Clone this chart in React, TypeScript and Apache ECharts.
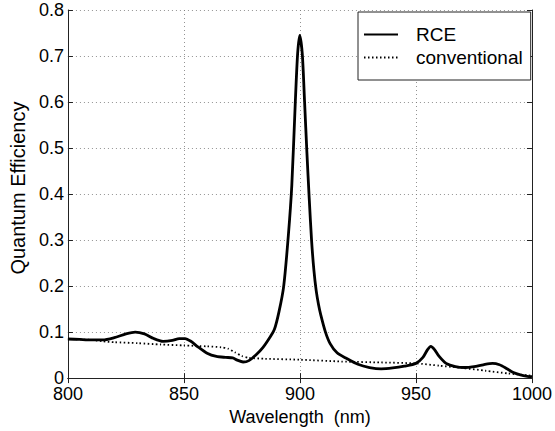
import React, { useEffect, useRef } from "react";
import * as echarts from "echarts";

const xTicks = [800, 850, 900, 950, 1000];
const yTicks = [0, 0.1, 0.2, 0.3, 0.4, 0.5, 0.6, 0.7, 0.8];

const rceWavelength = [
  800, 805, 810, 815, 820, 825, 829, 833, 837, 841, 845, 848, 850.5, 853, 856, 860, 864, 868, 871, 873,
  875.5, 878, 881, 884, 887, 889, 891, 893, 895, 896.5, 898, 899, 899.9, 901, 902, 903, 904, 905, 906,
  907, 908, 909, 911, 913, 916, 920, 925, 930, 935, 940, 945, 950, 953, 955, 956.4, 958, 960, 963, 967,
  971, 975, 979, 983, 986, 989, 992, 995, 998, 1000,
];
const rceQE = [
  0.085, 0.084, 0.083, 0.083, 0.088, 0.096, 0.1, 0.096, 0.086, 0.08, 0.082, 0.086, 0.086, 0.08, 0.068,
  0.054, 0.047, 0.045, 0.044, 0.039, 0.035, 0.038, 0.05, 0.066, 0.088, 0.106, 0.145, 0.2, 0.31, 0.42,
  0.6, 0.705, 0.745, 0.705, 0.6, 0.49, 0.39, 0.3, 0.235, 0.19, 0.16, 0.137, 0.1, 0.075, 0.055, 0.043,
  0.03, 0.023, 0.02, 0.022, 0.026, 0.032, 0.045, 0.062, 0.069, 0.062, 0.047, 0.032, 0.025, 0.023, 0.025,
  0.029, 0.032, 0.029, 0.021, 0.012, 0.007, 0.004, 0.003,
];

const convWavelength = [
  800, 810, 815, 820, 830, 840, 850, 860, 866, 869, 872, 875, 878, 885, 900, 918, 935, 950, 960, 970, 980,
  990, 1000,
];
const convQE = [
  0.085, 0.083, 0.08, 0.078, 0.076, 0.073, 0.071, 0.069, 0.067, 0.064, 0.056, 0.048, 0.044, 0.042, 0.04,
  0.036, 0.034, 0.032, 0.027, 0.022, 0.016, 0.01, 0.005,
];

const FONT = "Liberation Sans";

export default function App() {
  const ref = useRef<HTMLDivElement>(null);
  useEffect(() => {
    if (!ref.current) return;
    const chart = echarts.init(ref.current, undefined, { renderer: "svg" });
    const axisLine = { show: true, lineStyle: { color: "#222", width: 1 } };
    const splitLine = { show: true, lineStyle: { color: "#777", width: 0.8, type: [1, 3] as any } };
    const tick = { show: true, inside: true, length: 5, lineStyle: { color: "#222" } };
    chart.setOption({
      animation: false,
      backgroundColor: "#fff",
      grid: { left: 61, right: 22, top: 10, bottom: 47, containLabel: false },
      legend: {
        orient: "vertical",
        left: 358,
        top: 12,
        padding: [13, 8, 13, 5],
        itemGap: 4,
        itemWidth: 34,
        itemHeight: 10,
        backgroundColor: "#fff",
        borderColor: "#222",
        borderWidth: 1,
        borderRadius: 0,
        itemStyle: { opacity: 0 },
        textStyle: { fontFamily: FONT, fontSize: 19, color: "#000", padding: [0, 0, 0, 13] },
        data: ["RCE", "conventional"],
      },
      xAxis: [
        {
          type: "value",
          min: 800,
          max: 1000,
          interval: 50,
          name: "Wavelength  (nm)",
          nameLocation: "middle",
          nameGap: 25,
          nameTextStyle: { fontFamily: FONT, fontSize: 18, color: "#000" },
          axisLine,
          axisTick: tick,
          axisLabel: {
            fontFamily: FONT,
            fontSize: 18,
            lineHeight: 14,
            color: "#000",
            margin: 9,
            formatter: (v: number) => (xTicks.includes(v) ? String(v) : ""),
          },
          splitLine,
        },
        {
          type: "value",
          position: "top",
          min: 800,
          max: 1000,
          interval: 50,
          axisLine,
          axisTick: tick,
          axisLabel: { show: false },
          splitLine: { show: false },
        },
      ],
      yAxis: [
        {
          type: "value",
          min: 0,
          max: 0.8,
          interval: 0.1,
          name: "Quantum Efficiency",
          nameLocation: "middle",
          nameGap: 34,
          nameTextStyle: { fontFamily: FONT, fontSize: 20, color: "#000", padding: [0, 0, 0, 12] },
          axisLine,
          axisTick: tick,
          axisLabel: {
            fontFamily: FONT,
            fontSize: 18,
            lineHeight: 14,
            color: "#000",
            margin: 4,
            formatter: (v: number) => {
              const r = Math.round(v * 10) / 10;
              return yTicks.includes(r) ? (r === 0 ? "0" : r.toFixed(1)) : "";
            },
          },
          splitLine,
        },
        {
          type: "value",
          position: "right",
          min: 0,
          max: 0.8,
          interval: 0.1,
          axisLine,
          axisTick: tick,
          axisLabel: { show: false },
          splitLine: { show: false },
        },
      ],
      series: [
        {
          name: "RCE",
          type: "line",
          xAxisIndex: 0,
          yAxisIndex: 0,
          symbol: "none",
          smooth: 0.25,
          lineStyle: { color: "#000", width: 2.8 },
          itemStyle: { color: "#000" },
          data: rceWavelength.map((w, i) => [w, rceQE[i]]),
          z: 3,
        },
        {
          name: "conventional",
          type: "line",
          xAxisIndex: 0,
          yAxisIndex: 0,
          symbol: "none",
          smooth: 0.2,
          lineStyle: { color: "#000", width: 1.8, type: [1.5, 2.5] as any },
          itemStyle: { color: "#000" },
          data: convWavelength.map((w, i) => [w, convQE[i]]),
          z: 2,
        },
      ],
    });
    return () => chart.dispose();
  }, []);
  return <div ref={ref} style={{ width: 555, height: 431, position: "absolute", left: 0, top: 0 }} />;
}
